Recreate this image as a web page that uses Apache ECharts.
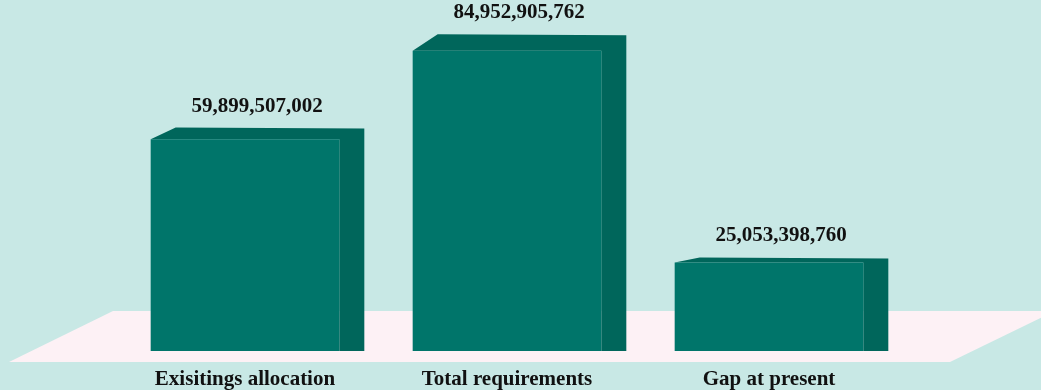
<!DOCTYPE html>
<html>
<head>
<meta charset="utf-8">
<script src="https://cdn.jsdelivr.net/npm/echarts@6/dist/echarts.min.js"></script>
<style>
html,body{margin:0;padding:0;background:#c8e8e5;}
#chart{width:1041px;height:390px;}
</style>
</head>
<body>
<div id="chart"></div>
<script>
const categories = ['Exisitings allocation', 'Total requirements', 'Gap at present'];
const values = [59899507002, 84952905762, 25053398760];

const chart = echarts.init(document.getElementById('chart'), null, {renderer: 'canvas'});
const FONT = '"Liberation Serif", "DejaVu Serif", serif';
const fmt = v => v.toLocaleString('en-US');

const option = {
  backgroundColor: '#c8e8e5',
  animation: false,
  graphic: [{
    type: 'polygon',
    z: -10,
    silent: true,
    shape: {points: [[113, 311], [1055, 311], [950, 362], [9, 362]]},
    style: {fill: '#fdf1f5'}
  }],
  grid: {left: 114, right: 141, top: 1, bottom: 39},
  xAxis: {
    type: 'category',
    data: categories,
    axisLine: {show: false},
    axisTick: {show: false},
    axisLabel: {
      margin: 18,
      color: '#111',
      fontFamily: FONT,
      fontWeight: 'bold',
      fontSize: 21
    }
  },
  yAxis: {
    type: 'value',
    min: 0,
    max: 99000000000,
    show: false,
    splitLine: {show: false}
  },
  series: [{
    type: 'custom',
    encode: {x: 0, y: 1},
    data: values.map((v, i) => [i, v]),
    renderItem: function (params, api) {
      const base = api.coord([api.value(0), 0]);
      const top = api.coord([api.value(0), api.value(1)]);
      const band = api.size([1, 0])[0];
      const w = band * 0.72;
      const x0 = base[0] - w / 2, x1 = base[0] + w / 2;
      const yb = base[1], yt = top[1];
      const h = yb - yt;
      const dx = 25, dy = h * 0.055;
      return {
        type: 'group',
        children: [
          {
            type: 'polygon',
            shape: {points: [[x0, yt], [x0 + dx, yt - dy], [x1 + dx, yt - dy + 1], [x1 + dx, yb], [x1, yb], [x1, yt]]},
            style: {fill: '#00665b'}
          },
          {
            type: 'rect',
            shape: {x: x0, y: yt, width: w, height: h},
            style: {fill: '#00756a'}
          },
          {
            type: 'text',
            style: {
              text: fmt(api.value(1)),
              x: base[0] + 12,
              y: yt - dy - 11,
              align: 'center',
              verticalAlign: 'bottom',
              fill: '#111',
              font: 'bold 21px ' + FONT
            }
          }
        ]
      };
    }
  }]
};
chart.setOption(option);
</script>
</body>
</html>
